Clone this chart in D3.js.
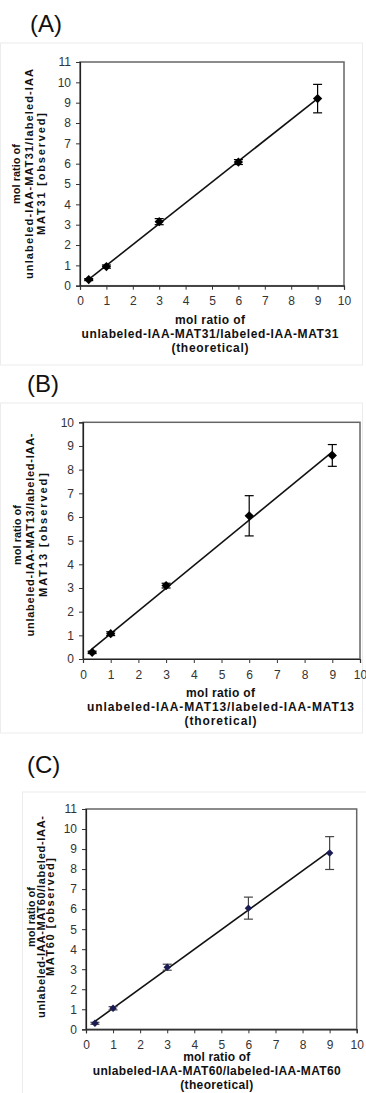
<!DOCTYPE html>
<html>
<head>
<meta charset="utf-8">
<script src="https://cdn.jsdelivr.net/npm/d3@7"></script>
<style>
  body { margin: 0; background: #fff; }
  svg { display: block; font-family: Arial, "Liberation Sans", sans-serif; }
</style>
</head>
<body>
<div id="chart"></div>
<script>
// ---- data ----
const xTheoretical = [0.33, 1, 3, 6, 9]

const obsA = [0.30, 0.94, 3.15, 6.08, 9.2]
const errA = [0.05, 0.08, 0.15, 0.12, 0.7]

const obsB = [0.28, 1.07, 3.1, 6.05, 8.6]
const errB = [0.05, 0.08, 0.1, 0.85, 0.46]

const obsC = [0.3, 1.05, 3.1, 6.05, 8.8]
const errC = [0.05, 0.08, 0.15, 0.55, 0.82]

const xTicks = [0, 1, 2, 3, 4, 5, 6, 7, 8, 9, 10]
const yTicksA = [0, 1, 2, 3, 4, 5, 6, 7, 8, 9, 10, 11]
const yTicksB = [0, 1, 2, 3, 4, 5, 6, 7, 8, 9, 10]
const yTicksC = [0, 1, 2, 3, 4, 5, 6, 7, 8, 9, 10, 11]

const panelTags = ["(A)", "(B)", "(C)"]
const yLabelA = ["mol ratio of", "unlabeled-IAA-MAT31/labeled-IAA", "MAT31 [observed]"]
const yLabelB = ["mol ratio of", "unlabeled-IAA-MAT13/labeled-IAA-", "MAT13 [observed]"]
const yLabelC = ["mol ratio of", "unlabeled-IAA-MAT60/labeled-IAA-", "MAT60 [observed]"]
const xLabelA = ["mol ratio of", "unlabeled-IAA-MAT31/labeled-IAA-MAT31", "(theoretical)"]
const xLabelB = ["mol ratio of", "unlabeled-IAA-MAT13/labeled-IAA-MAT13", "(thoretical)"]
const xLabelC = ["mol ratio of", "unlabeled-IAA-MAT60/labeled-IAA-MAT60", "(theoretical)"]

// ---- layout ----
const width = 366, height = 1093

const panels = [
  { tag: panelTags[0], obs: obsA, err: errA, yTicks: yTicksA, yLabel: yLabelA, xLabel: xLabelA,
    tagX: 30, tagY: 32, plot: { l: 80, t: 62, r: 344, b: 285.7 },
    border: { x: 0.5, y: 43, w: 362, h: 322 },
    yLab: { xs: [16, 29, 41], yc: 174, lens: [null, 210, 122] },
    xLab: { xc: 210, ys: [324, 338, 352], lens: [70, 257, 77] },
    marker: "#000", bar: "#000", mSize: 5 },
  { tag: panelTags[1], obs: obsB, err: errB, yTicks: yTicksB, yLabel: yLabelB, xLabel: xLabelB,
    tagX: 27, tagY: 392, plot: { l: 83, t: 422.3, r: 360, b: 659 },
    border: { x: 0.5, y: 403, w: 362, h: 330 },
    yLab: { xs: [17, 30, 43], yc: 535, lens: [null, 203, 124] },
    xLab: { xc: 220.5, ys: [697, 711, 725], lens: [69, 267, 72] },
    marker: "#000", bar: "#000", mSize: 5 },
  { tag: panelTags[2], obs: obsC, err: errC, yTicks: yTicksC, yLabel: yLabelC, xLabel: xLabelC,
    tagX: 27, tagY: 773, plot: { l: 86, t: 809, r: 356.7, b: 1029.3 },
    border: { x: 22.5, y: 792, w: 345, h: 302 },
    yLab: { xs: [31, 41, 50], yc: 917, lens: [null, 202, 118] },
    xLab: { xc: 216.7, ys: [1061, 1075, 1089], lens: [67, 248, 73] },
    marker: "#1c1c55", bar: "#444", mSize: 4 }
]

const svg = d3.select("#chart").append("svg")
  .attr("width", width)
  .attr("height", height)

const diamond = d3.symbol().type(d3.symbolDiamond2)

panels.forEach(p => {
  const xMax = xTicks[xTicks.length - 1]
  const yMax = p.yTicks[p.yTicks.length - 1]
  const x = d3.scaleLinear().domain([0, xMax]).range([p.plot.l, p.plot.r])
  const y = d3.scaleLinear().domain([0, yMax]).range([p.plot.b, p.plot.t])
  const g = svg.append("g")

  // faint outer chart-area border
  g.append("rect")
    .attr("x", p.border.x).attr("y", p.border.y)
    .attr("width", p.border.w).attr("height", p.border.h)
    .attr("fill", "none").attr("stroke", "#ececec").attr("stroke-width", 1)

  // panel tag
  g.append("text")
    .attr("x", p.tagX).attr("y", p.tagY)
    .attr("font-size", 24).attr("fill", "#111")
    .text(p.tag)

  // plot frame
  g.append("rect")
    .attr("x", p.plot.l).attr("y", p.plot.t)
    .attr("width", p.plot.r - p.plot.l).attr("height", p.plot.b - p.plot.t)
    .attr("fill", "none").attr("stroke", "#666").attr("stroke-width", 1.5)

  // axes
  const yAxis = g.append("g")
    .attr("transform", `translate(${p.plot.l},0)`)
    .call(d3.axisLeft(y).tickValues(p.yTicks).tickSize(4).tickPadding(5).tickFormat(d3.format("d")))
  const xAxis = g.append("g")
    .attr("transform", `translate(0,${p.plot.b})`)
    .call(d3.axisBottom(x).tickValues(xTicks).tickSize(4).tickPadding(7).tickFormat(d3.format("d")))
  ;[xAxis, yAxis].forEach(a => {
    a.select(".domain").attr("stroke", "#222").attr("stroke-width", 1.2)
    a.selectAll(".tick line").attr("stroke", "#333")
    a.selectAll(".tick text").attr("font-size", 12).attr("fill", "#333")
      .attr("font-family", "Arial, 'Liberation Sans', sans-serif")
  })

  // least-squares trend line through the observed points
  const n = xTheoretical.length
  const mx = d3.mean(xTheoretical), my = d3.mean(p.obs)
  const sxy = d3.sum(xTheoretical, (v, i) => (v - mx) * (p.obs[i] - my))
  const sxx = d3.sum(xTheoretical, v => (v - mx) * (v - mx))
  const slope = sxy / sxx, icpt = my - slope * mx
  const x0 = xTheoretical[0], x1 = xTheoretical[n - 1]
  g.append("line")
    .attr("x1", x(x0)).attr("y1", y(icpt + slope * x0))
    .attr("x2", x(x1)).attr("y2", y(icpt + slope * x1))
    .attr("stroke", "#111").attr("stroke-width", 1.6)

  // error bars
  const pts = xTheoretical.map((v, i) => ({ x: v, y: p.obs[i], e: p.err[i] }))
  const eb = g.append("g").selectAll("g").data(pts).join("g")
    .attr("stroke", p.bar).attr("stroke-width", 1.2)
  eb.append("line")
    .attr("x1", d => x(d.x)).attr("x2", d => x(d.x))
    .attr("y1", d => y(d.y - d.e)).attr("y2", d => y(d.y + d.e))
  eb.append("line")
    .attr("x1", d => x(d.x) - 4.5).attr("x2", d => x(d.x) + 4.5)
    .attr("y1", d => y(d.y + d.e)).attr("y2", d => y(d.y + d.e))
  eb.append("line")
    .attr("x1", d => x(d.x) - 4.5).attr("x2", d => x(d.x) + 4.5)
    .attr("y1", d => y(d.y - d.e)).attr("y2", d => y(d.y - d.e))

  // markers
  g.append("g").selectAll("path").data(pts).join("path")
    .attr("d", diamond.size(p.mSize * p.mSize * 2.2))
    .attr("transform", d => `translate(${x(d.x)},${y(d.y)})`)
    .attr("fill", p.marker)

  // y axis title (rotated, three lines)
  p.yLabel.forEach((t, i) => {
    const txt = g.append("text")
      .attr("transform", `translate(${p.yLab.xs[i]},${p.yLab.yc}) rotate(-90)`)
      .attr("text-anchor", "middle").attr("dominant-baseline", "central")
      .attr("font-size", 11).attr("font-weight", "bold").attr("fill", "#111")
      .text(t)
    if (p.yLab.lens[i]) txt.attr("textLength", p.yLab.lens[i]).attr("lengthAdjust", "spacing")
  })

  // x axis title (three lines)
  p.xLabel.forEach((t, i) => {
    g.append("text")
      .attr("x", p.xLab.xc).attr("y", p.xLab.ys[i])
      .attr("text-anchor", "middle")
      .attr("font-size", 12).attr("font-weight", "bold").attr("fill", "#111")
      .attr("textLength", p.xLab.lens[i]).attr("lengthAdjust", "spacing")
      .text(t)
  })
})
</script>
</body>
</html>
